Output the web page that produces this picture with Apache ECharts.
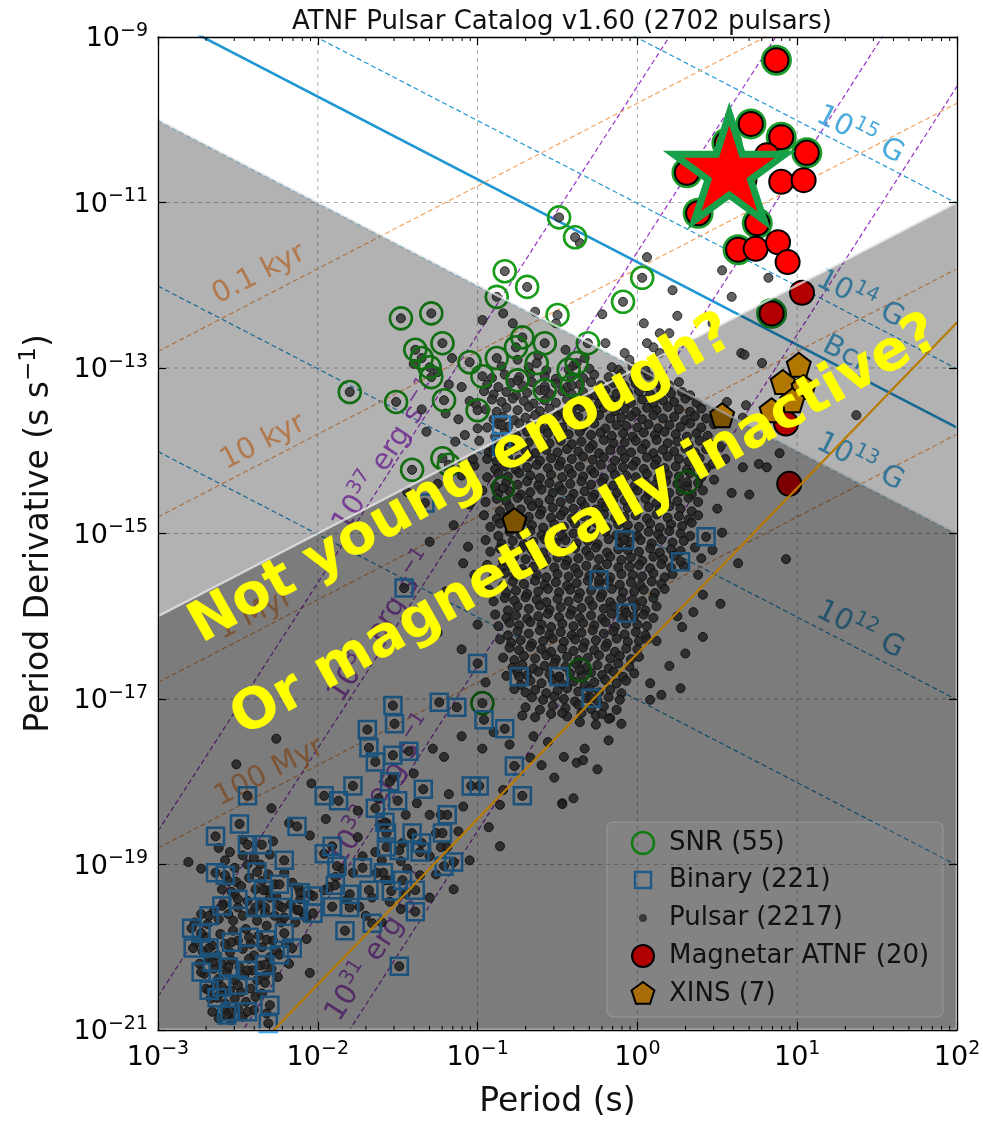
<!DOCTYPE html>
<html><head><meta charset="utf-8">
<script src="https://cdn.jsdelivr.net/npm/echarts@6/dist/echarts.min.js"></script>
<style>html,body{margin:0;padding:0;background:#fff}#c{width:983px;height:1122px}</style>
</head><body><div id="c"></div>
<script>
// ---- DATA (log10 period [s], log10 period derivative [s/s]) ----
const xTicks = [-3,-2,-1,0,1,2];
const yTicks = [-21,-19,-17,-15,-13,-11,-9];
const magnetars = [[.87,-9.28],[.71,-10.05],[.9,-10.21],[.81,-10.43],[1.06,-10.4],[.31,-10.64],[.9,-10.75],[1.04,-10.73],[.38,-11.13],[.75,-11.25],[.63,-11.57],[.74,-11.56],[.88,-11.48],[.94,-11.72],[1.03,-12.09],[.84,-12.34],[.56,-10.28],[.93,-13.67],[.95,-14.4],[.67,-10.73]];
const magnetarSnrIdx = [0,1,2,4,5,8,9,10,15,16];
const xins = [[1.01,-12.96],[.91,-13.17],[1.04,-13.23],[.97,-13.39],[.84,-13.51],[.53,-13.57],[-.77,-14.84]];
const targetStar = [[.575,-10.57]];
const snr = [[-.49,-11.18],[-.39,-11.42],[-.83,-11.83],[-.69,-12.02],[-.88,-12.14],[-1.48,-12.4],[-1.29,-12.34],[-.5,-12.36],[-.72,-12.63],[-1.22,-12.7],[-.58,-12.7],[-1.35,-12.88],[-1.3,-12.99],[-1.05,-12.93],[-.88,-12.88],[-.63,-12.94],[.03,-11.91],[-.09,-12.2],[-.31,-12.7],[-.38,-12.94],[-1.8,-13.29],[-1.51,-13.41],[-1.29,-13.11],[-1.21,-13.39],[-1,-13.51],[-.58,-13.27],[-1.41,-14.23],[-1.22,-14.09],[-1.18,-14.17],[-.84,-14.45],[-.97,-17.05],[-.76,-12.75],[-.43,-13.02],[-.97,-13.1],[-.75,-13.15],[-.41,-13.21],[.31,-14.38],[-.36,-16.65],[-1.39,-12.78]];
const binaries = [[-1.53,-17.08],[-1.69,-17.37],[-1.52,-17.3],[-1.68,-17.59],[-1.64,-17.76],[-1.53,-17.68],[-1.43,-17.63],[-1.55,-18],[-1.78,-18.05],[-1.96,-18.17],[-1.87,-18.23],[-1.5,-18.23],[-1.34,-18.09],[-1.24,-17.04],[-1.13,-17.1],[-.96,-17.25],[-.83,-17.36],[-.77,-17.81],[-1.04,-18.05],[-.99,-18.05],[-.72,-18.17],[-1.64,-18.32],[-1.58,-18.49],[-1.57,-18.62],[-1.19,-18.4],[-1.22,-18.62],[-1.41,-18.62],[-1.35,-18.74],[-1.57,-18.79],[-1.49,-18.83],[-1.36,-18.85],[-1.15,-18.97],[-1.21,-19.02],[-1.91,-18.78],[-1.96,-18.87],[-2.13,-18.54],[-2.49,-18.51],[-2.64,-18.66],[-2.44,-18.17],[-2.21,-18.95],[-2.44,-18.76],[-2.35,-18.76],[-2.64,-19.1],[-2.58,-19.13],[-2.38,-19.09],[-2.24,-19.24],[-2.11,-19.34],[-2.03,-19.38],[-1.88,-19.02],[-1.89,-19.25],[-1.72,-19.04],[-1.59,-19.1],[-1.47,-19.19],[-1.68,-19.31],[-1.8,-19.36],[-1.91,-19.51],[-1.8,-19.52],[-1.54,-19.32],[-1.39,-19.31],[-1.39,-19.57],[-1.66,-19.71],[-1.83,-19.8],[-1.49,-20.23],[-2.79,-19.77],[-2.6,-19.5],[-2.5,-19.42],[-2.39,-19.52],[-2.33,-19.52],[-2.22,-19.52],[-2.12,-19.55],[-2.03,-19.59],[-2.68,-19.62],[-2.73,-19.83],[-2.78,-20.01],[-2.68,-20.01],[-2.54,-19.94],[-2.43,-19.88],[-2.32,-19.91],[-2.21,-19.83],[-2.16,-20.01],[-2.24,-20.09],[-2.33,-20.21],[-2.44,-20.28],[-2.56,-20.24],[-2.66,-20.18],[-2.73,-20.3],[-2.6,-20.48],[-2.5,-20.46],[-2.68,-20.52],[-2.63,-20.61],[-2.55,-20.78],[-2.44,-20.78],[-2.33,-20.43],[-2.3,-20.7],[-2.31,-20.92],[-2.57,-20.82],[-2.34,-19.31],[-.85,-13.69],[-.85,-13.95],[-1.33,-14.63],[-1.46,-15.66],[-1,-16.57],[-.74,-16.73],[.43,-15.04],[.27,-15.34],[-.07,-15.96],[-.29,-16.99],[-.49,-16.73],[-.08,-15.08],[-.24,-15.56]];
const pulsarCore = [[-.85,-12.98],[-.68,-12.99],[-.57,-13.03],[-.4,-12.97],[-.3,-13.01],[-.12,-13.02],[-.03,-12.99],[.05,-13.03],[-.62,-12.85],[-.33,-12.88],[-.05,-12.9],[.1,-12.75],[-.45,-12.78],[-.2,-12.7],
[-.91,-13.12],[-.83,-13.08],[-.74,-13.11],[-.67,-13.07],[-.58,-13.1],[-.51,-13.13],[-.42,-13.09],[-.34,-13.12],[-.27,-13.08],[-.18,-13.11],[-.1,-13.07],[-.02,-13.13],[.07,-13.09],[.15,-13.1],
[-.94,-13.2],[-.87,-13.23],[-.79,-13.18],[-.72,-13.21],[-.66,-13.17],[-.58,-13.22],[-.51,-13.19],[-.44,-13.23],[-.36,-13.2],[-.29,-13.17],[-.23,-13.21],[-.15,-13.18],[-.08,-13.22],[-.01,-13.19],[.06,-13.23],[.13,-13.18],[.2,-13.21],[.26,-13.17],
[-.96,-13.28],[-.9,-13.32],[-.82,-13.29],[-.76,-13.33],[-.69,-13.3],[-.61,-13.27],[-.55,-13.31],[-.47,-13.28],[-.41,-13.32],[-.34,-13.29],[-.26,-13.33],[-.2,-13.27],[-.13,-13.31],[-.06,-13.3],[.01,-13.28],[.08,-13.32],[.15,-13.27],[.21,-13.31],[.28,-13.29],[.33,-13.33],
[-1.01,-13.44],[-.91,-13.38],[-.85,-13.41],[-.78,-13.37],[-.71,-13.4],[-.65,-13.43],[-.58,-13.39],[-.51,-13.42],[-.44,-13.38],[-.38,-13.41],[-.31,-13.37],[-.24,-13.43],[-.17,-13.39],[-.11,-13.4],[-.04,-13.42],[.03,-13.38],[.1,-13.43],[.16,-13.39],[.23,-13.41],[.3,-13.37],[.37,-13.42],
[-.95,-13.5],[-.88,-13.53],[-.82,-13.48],[-.75,-13.51],[-.68,-13.47],[-.61,-13.52],[-.55,-13.49],[-.48,-13.53],[-.41,-13.5],[-.35,-13.47],[-.28,-13.51],[-.21,-13.48],[-.14,-13.52],[-.08,-13.49],[-.01,-13.53],[.06,-13.48],[.12,-13.51],[.19,-13.47],[.26,-13.5],[.33,-13.53],[.4,-13.49],
[-.9,-13.62],[-.84,-13.59],[-.77,-13.63],[-.7,-13.6],[-.64,-13.57],[-.57,-13.61],[-.5,-13.58],[-.44,-13.62],[-.37,-13.59],[-.3,-13.63],[-.24,-13.57],[-.17,-13.61],[-.1,-13.6],[-.04,-13.58],[.03,-13.62],[.1,-13.57],[.16,-13.61],[.23,-13.59],[.3,-13.63],[.36,-13.58],[.43,-13.61],
[-.94,-13.72],[-.87,-13.68],[-.81,-13.71],[-.74,-13.67],[-.67,-13.7],[-.6,-13.73],[-.54,-13.69],[-.47,-13.72],[-.4,-13.68],[-.34,-13.71],[-.27,-13.67],[-.2,-13.73],[-.13,-13.69],[-.07,-13.7],[0,-13.72],[.07,-13.68],[.13,-13.73],[.2,-13.69],[.27,-13.71],[.33,-13.67],[.4,-13.72],[.48,-13.68],
[-.89,-13.83],[-.83,-13.78],[-.76,-13.81],[-.69,-13.77],[-.63,-13.82],[-.56,-13.79],[-.49,-13.83],[-.43,-13.8],[-.36,-13.77],[-.29,-13.81],[-.23,-13.78],[-.16,-13.82],[-.09,-13.79],[-.03,-13.83],[.04,-13.78],[.11,-13.81],[.17,-13.77],[.24,-13.8],[.31,-13.83],[.37,-13.79],[.44,-13.82],
[-.99,-13.88],[-.88,-13.92],[-.81,-13.89],[-.75,-13.93],[-.68,-13.9],[-.61,-13.87],[-.55,-13.91],[-.48,-13.88],[-.41,-13.92],[-.35,-13.89],[-.28,-13.93],[-.21,-13.87],[-.15,-13.91],[-.08,-13.9],[-.01,-13.88],[.05,-13.92],[.12,-13.87],[.19,-13.91],[.25,-13.89],[.32,-13.93],[.39,-13.88],[.45,-13.91],
[-.93,-14.02],[-.9,-13.98],[-.84,-14.01],[-.77,-13.97],[-.7,-14],[-.64,-14.03],[-.57,-13.99],[-.5,-14.02],[-.44,-13.98],[-.37,-14.01],[-.3,-13.97],[-.24,-14.03],[-.17,-13.99],[-.1,-14],[-.04,-14.02],[.03,-13.98],[.1,-14.03],[.16,-13.99],[.23,-14.01],[.3,-13.97],[.36,-14.02],[.43,-13.98],
[-.94,-14.1],[-.88,-14.13],[-.81,-14.08],[-.74,-14.11],[-.68,-14.07],[-.61,-14.12],[-.54,-14.09],[-.48,-14.13],[-.41,-14.1],[-.34,-14.07],[-.28,-14.11],[-.21,-14.08],[-.14,-14.12],[-.08,-14.09],[-.01,-14.13],[.06,-14.08],[.12,-14.11],[.19,-14.07],[.26,-14.1],[.32,-14.13],[.39,-14.09],[.47,-14.16],
[-1.02,-14.18],[-.89,-14.22],[-.83,-14.19],[-.76,-14.23],[-.69,-14.2],[-.63,-14.17],[-.56,-14.21],[-.49,-14.18],[-.43,-14.22],[-.36,-14.19],[-.29,-14.23],[-.23,-14.17],[-.16,-14.21],[-.09,-14.2],[-.03,-14.18],[.04,-14.22],[.11,-14.17],[.17,-14.21],[.24,-14.19],[.31,-14.23],[.37,-14.18],[.43,-14.21],
[-.94,-14.32],[-.87,-14.28],[-.81,-14.31],[-.74,-14.27],[-.67,-14.3],[-.61,-14.33],[-.54,-14.29],[-.47,-14.32],[-.41,-14.28],[-.34,-14.31],[-.27,-14.27],[-.21,-14.33],[-.14,-14.29],[-.07,-14.3],[-.01,-14.32],[.06,-14.28],[.13,-14.33],[.19,-14.29],[.26,-14.31],[.33,-14.27],[.4,-14.32],
[-.89,-14.43],[-.82,-14.38],[-.75,-14.41],[-.69,-14.37],[-.62,-14.42],[-.55,-14.39],[-.49,-14.43],[-.42,-14.4],[-.35,-14.37],[-.29,-14.41],[-.22,-14.38],[-.15,-14.42],[-.09,-14.39],[-.02,-14.43],[.05,-14.38],[.11,-14.41],[.18,-14.37],[.25,-14.4],[.31,-14.43],[.38,-14.39],
[-.97,-14.48],[-.87,-14.52],[-.8,-14.49],[-.73,-14.53],[-.67,-14.5],[-.6,-14.47],[-.53,-14.51],[-.47,-14.48],[-.4,-14.52],[-.33,-14.49],[-.27,-14.53],[-.2,-14.47],[-.13,-14.51],[-.07,-14.5],[0,-14.48],[.07,-14.52],[.13,-14.47],[.2,-14.51],[.27,-14.49],[.34,-14.53],[.41,-14.48],
[-.95,-14.62],[-.88,-14.58],[-.82,-14.61],[-.75,-14.57],[-.68,-14.6],[-.62,-14.63],[-.55,-14.59],[-.48,-14.62],[-.42,-14.58],[-.35,-14.61],[-.28,-14.57],[-.22,-14.63],[-.15,-14.59],[-.08,-14.6],[-.02,-14.62],[.05,-14.58],[.12,-14.63],[.18,-14.59],[.25,-14.61],[.32,-14.57],[.38,-14.62],
[-.86,-14.73],[-.8,-14.68],[-.73,-14.71],[-.66,-14.67],[-.6,-14.72],[-.53,-14.69],[-.46,-14.73],[-.4,-14.7],[-.33,-14.67],[-.26,-14.71],[-.2,-14.68],[-.13,-14.72],[-.06,-14.69],[0,-14.73],[.07,-14.68],[.14,-14.71],[.2,-14.67],[.27,-14.7],[.34,-14.73],
[-.96,-14.78],[-.88,-14.82],[-.81,-14.79],[-.74,-14.83],[-.68,-14.8],[-.61,-14.77],[-.54,-14.81],[-.48,-14.78],[-.41,-14.82],[-.34,-14.79],[-.28,-14.83],[-.21,-14.77],[-.14,-14.81],[-.08,-14.8],[-.01,-14.78],[.06,-14.82],[.12,-14.77],[.19,-14.81],[.26,-14.79],[.32,-14.83],[.38,-14.78],
[-.92,-14.92],[-.86,-14.88],[-.79,-14.91],[-.72,-14.87],[-.66,-14.9],[-.59,-14.93],[-.52,-14.89],[-.46,-14.92],[-.39,-14.88],[-.32,-14.91],[-.26,-14.87],[-.19,-14.93],[-.12,-14.89],[-.06,-14.9],[.01,-14.92],[.08,-14.88],[.14,-14.93],[.21,-14.89],[.28,-14.91],[.34,-14.87],
[-.87,-15.03],[-.8,-14.98],[-.73,-15.01],[-.67,-14.97],[-.6,-15.02],[-.53,-14.99],[-.47,-15.03],[-.4,-15],[-.33,-14.97],[-.27,-15.01],[-.2,-14.98],[-.13,-15.02],[-.07,-14.99],[0,-15.03],[.07,-14.98],[.13,-15.01],[.2,-14.97],[.27,-15],[.33,-15.03],
[-.95,-15.08],[-.85,-15.12],[-.78,-15.09],[-.71,-15.13],[-.65,-15.1],[-.58,-15.07],[-.51,-15.11],[-.45,-15.08],[-.38,-15.12],[-.31,-15.09],[-.25,-15.13],[-.18,-15.07],[-.11,-15.11],[-.05,-15.1],[.02,-15.08],[.09,-15.12],[.15,-15.07],[.22,-15.11],[.29,-15.09],
[-.92,-15.22],[-.86,-15.18],[-.79,-15.21],[-.72,-15.17],[-.66,-15.2],[-.59,-15.23],[-.52,-15.19],[-.46,-15.22],[-.39,-15.18],[-.32,-15.21],[-.26,-15.17],[-.19,-15.23],[-.12,-15.19],[-.06,-15.2],[.01,-15.22],[.08,-15.18],[.14,-15.23],[.21,-15.19],[.27,-15.21],[.36,-15.17],
[-.84,-15.33],[-.77,-15.28],[-.7,-15.31],[-.64,-15.27],[-.57,-15.32],[-.5,-15.29],[-.44,-15.33],[-.37,-15.3],[-.3,-15.27],[-.24,-15.31],[-.17,-15.28],[-.1,-15.32],[-.04,-15.29],[.03,-15.33],[.1,-15.28],[.16,-15.31],[.23,-15.27],
[-.94,-15.38],[-.85,-15.42],[-.79,-15.39],[-.72,-15.43],[-.65,-15.4],[-.59,-15.37],[-.52,-15.41],[-.45,-15.38],[-.39,-15.42],[-.32,-15.39],[-.25,-15.43],[-.19,-15.37],[-.12,-15.41],[-.05,-15.4],[.01,-15.38],[.08,-15.42],[.15,-15.37],[.21,-15.41],[.29,-15.39],
[-.9,-15.52],[-.83,-15.48],[-.77,-15.51],[-.7,-15.47],[-.63,-15.5],[-.57,-15.53],[-.5,-15.49],[-.43,-15.52],[-.37,-15.48],[-.3,-15.51],[-.23,-15.47],[-.17,-15.53],[-.1,-15.49],[-.03,-15.5],[.03,-15.52],[.1,-15.48],[.17,-15.53],[.22,-15.49],
[-.84,-15.63],[-.78,-15.58],[-.71,-15.61],[-.64,-15.57],[-.58,-15.62],[-.51,-15.59],[-.44,-15.63],[-.38,-15.6],[-.31,-15.57],[-.24,-15.61],[-.18,-15.58],[-.11,-15.62],[-.04,-15.59],[.02,-15.63],[.09,-15.58],[.15,-15.61],
[-.93,-15.68],[-.82,-15.72],[-.76,-15.69],[-.69,-15.73],[-.62,-15.7],[-.56,-15.67],[-.49,-15.71],[-.42,-15.68],[-.36,-15.72],[-.29,-15.69],[-.22,-15.73],[-.16,-15.67],[-.09,-15.71],[-.02,-15.7],[.04,-15.68],[.11,-15.72],[.17,-15.67],
[-.9,-15.82],[-.83,-15.78],[-.77,-15.81],[-.7,-15.77],[-.63,-15.8],[-.57,-15.83],[-.5,-15.79],[-.43,-15.82],[-.37,-15.78],[-.3,-15.81],[-.23,-15.77],[-.17,-15.83],[-.1,-15.79],[-.03,-15.8],[.03,-15.82],[.1,-15.78],
[-.81,-15.93],[-.75,-15.88],[-.68,-15.91],[-.61,-15.87],[-.55,-15.92],[-.48,-15.89],[-.41,-15.93],[-.35,-15.9],[-.28,-15.87],[-.21,-15.91],[-.15,-15.88],[-.08,-15.92],[-.01,-15.89],[.05,-15.93],[.12,-15.88],
[-.89,-15.98],[-.82,-16.02],[-.76,-15.99],[-.69,-16.03],[-.62,-16],[-.56,-15.97],[-.49,-16.01],[-.42,-15.98],[-.36,-16.02],[-.29,-15.99],[-.22,-16.03],[-.16,-15.97],[-.09,-16.01],[-.02,-16],[.04,-15.98],[.1,-16.02],
[-.87,-16.12],[-.8,-16.08],[-.74,-16.11],[-.67,-16.07],[-.6,-16.1],[-.54,-16.13],[-.47,-16.09],[-.4,-16.12],[-.34,-16.08],[-.27,-16.11],[-.2,-16.07],[-.14,-16.13],[-.07,-16.09],[0,-16.1],[.06,-16.12],
[-.81,-16.23],[-.75,-16.18],[-.68,-16.21],[-.61,-16.17],[-.55,-16.22],[-.48,-16.19],[-.41,-16.23],[-.35,-16.2],[-.28,-16.17],[-.21,-16.21],[-.15,-16.18],[-.08,-16.22],[-.01,-16.19],[.05,-16.23],
[-.86,-16.28],[-.79,-16.32],[-.73,-16.29],[-.66,-16.33],[-.59,-16.3],[-.53,-16.27],[-.46,-16.31],[-.39,-16.28],[-.33,-16.32],[-.26,-16.29],[-.19,-16.33],[-.13,-16.27],[-.06,-16.31],[.01,-16.3],[.06,-16.28],
[-.8,-16.38],[-.74,-16.41],[-.67,-16.37],[-.6,-16.4],[-.54,-16.43],[-.47,-16.39],[-.4,-16.42],[-.34,-16.38],[-.27,-16.41],[-.2,-16.37],[-.14,-16.43],[-.07,-16.39],[0,-16.4],
[-.84,-16.5],[-.77,-16.53],[-.71,-16.48],[-.64,-16.51],[-.57,-16.47],[-.51,-16.52],[-.44,-16.49],[-.37,-16.53],[-.31,-16.5],[-.24,-16.47],[-.17,-16.51],[-.11,-16.48],[-.04,-16.52],[.01,-16.49],
[-.78,-16.62],[-.72,-16.59],[-.65,-16.63],[-.58,-16.6],[-.52,-16.57],[-.45,-16.61],[-.38,-16.58],[-.32,-16.62],[-.25,-16.59],[-.18,-16.63],[-.12,-16.57],[-.05,-16.61],
[-.82,-16.72],[-.75,-16.68],[-.69,-16.71],[-.62,-16.67],[-.55,-16.7],[-.49,-16.73],[-.42,-16.69],[-.35,-16.72],[-.29,-16.68],[-.22,-16.71],[-.15,-16.67],[-.09,-16.73],[-.02,-16.69],
[-.73,-16.83],[-.67,-16.78],[-.6,-16.81],[-.53,-16.77],[-.47,-16.82],[-.4,-16.79],[-.33,-16.83],[-.27,-16.8],[-.2,-16.77],[-.13,-16.81],[-.07,-16.78],
[-.77,-16.88],[-.7,-16.92],[-.64,-16.89],[-.57,-16.93],[-.5,-16.9],[-.44,-16.87],[-.37,-16.91],[-.3,-16.88],[-.24,-16.92],[-.17,-16.89],[-.1,-16.93],
[-.66,-16.98],[-.59,-17.01],[-.52,-16.97],[-.46,-17],[-.39,-17.03],[-.32,-16.99],[-.25,-17.02],[-.18,-16.98],[-.11,-17.01],
[-.7,-17.1],[-.61,-17.13],[-.53,-17.08],[-.45,-17.11],[-.37,-17.07],[-.29,-17.12],[-.21,-17.09],[-.13,-17.13],
[-.64,-17.22],[-.54,-17.18],[-.44,-17.21],[-.35,-17.17],[-.26,-17.2],[-.17,-17.23]];
const pulsarOther = [[.06,-11.66],[.53,-11.82],[.82,-11.91],[.22,-12.06],[.59,-12.14],[-.22,-12.35],[.25,-12.37],[.04,-12.46],[.14,-12.58],[.2,-12.58],[.06,-12.7],[-.08,-12.82],[.14,-12.82],[.36,-12.81],[.47,-12.46],[.65,-12.82],[.67,-12.84],[.78,-12.94],[-.16,-12.99],[-.36,-11.49],
[-.64,-12.32],[-.97,-12.42],[-.84,-12.34],[-.78,-12.46],[-.51,-12.46],[-.75,-12.9],[-1.16,-12.88],
[-1.1,-13.23],[-1.32,-13.77],[-1.08,-13.81],[-1,-13.73],[-1.14,-13.89],[-1.44,-14.5],[-1.06,-15.16],[-1.09,-15.36],[-1.25,-13.05],[-1.18,-13.2],[-1.4,-12.95],[-1.05,-13.4],[-1.2,-13.55],[-1.35,-13.5],[-1.12,-13.62],[-1.03,-14.1],[-1.1,-14.3],[-1.25,-14.4],[-1.05,-14.65],[-1.15,-14.9],[-1.02,-15.5],[-1.3,-15.1],[-1.2,-15.7],[-1,-16.1],[-1.1,-16.4],[-.95,-16.8],[-1.25,-16.2],
[.53,-14.99],[.63,-15.36],[.93,-15.31],[.52,-15.85],[.41,-16.25],[.28,-16.13],[.27,-16.87],[.08,-17.01],[.08,-16.81],[.41,-15.74],[.7,-14.53],[.59,-14.51],[.81,-14.2],[.76,-14.16],[.89,-14.03],[1.37,-13.57],[.66,-14.2],[.56,-13.41],[.66,-13.6],[.68,-13.45],[.5,-14.7],[.48,-14.35],[.52,-13.95],[.55,-14.1],[.47,-15.2],[.38,-15.5],[.35,-15.95],[.3,-16.45],[.2,-16.6],[.15,-16.95],[.12,-16.3],[.25,-16],[.4,-15.3],
[-.47,-17.17],[-.36,-17.28],[-.26,-17.31],[-.22,-17.18],[-.18,-17.24],[-.46,-17.7],[-.38,-17.77],[-.34,-17.74],[-.47,-18.26],
[-1.72,-18.9],[-1.64,-18.85],[-1.6,-18.95],[-1.48,-18.96],[-1.44,-19.05],[-1.3,-18.9],[-1.26,-19.12],[-1.66,-19.4],[-1.55,-19.45],[-1.45,-19.35],[-1.78,-19.1],[-1.85,-19.05],[-1.7,-19.62],[-1.6,-19.7],[-1.3,-19.4],[-1.15,-19.3],[-1.05,-18.95],[-1.12,-18.6],[-1.09,-18.3],[-1.18,-18.15],[-1.3,-18.4],[-1.45,-18.4],[-1.62,-18.2],[-1.75,-18.35],[-1.95,-18.45],[-2.05,-18.65],[-2.18,-18.5],[-1.53,-17.95],[-1.4,-17.9],[-1.28,-17.6],[-1.1,-17.45],[-.97,-17.6],[-.9,-17.4],[-.8,-17.55],[-.72,-17.2],[-.65,-17.45],[-.6,-17.8],[-.52,-17.95],[-.4,-18.2],[-.33,-17.6],[-.25,-17.85],[-.18,-17.5],[-.1,-17.3],
[-2.26,-17.48],[-2.51,-17.79],[-2.04,-18.02],[-2.29,-18.32],[-2.81,-18.97],[-2.73,-19.05],[-1.75,-18.67],[-1.38,-18.26],[-1.21,-17.7],[-.67,-17.71],[-.56,-17.52],[-.84,-18.1],[-.86,-18.28],[-.93,-18.55],[-.86,-18.78],[-.47,-18.27],[-2.07,-19.9],[-2.05,-20.31],[-1.48,-19.54],[-1.74,-19.51],[-1.82,-19.43],[-1.96,-19.31],[-1.93,-19.27],[-1.89,-19.15],[-1.63,-19.1],[-1.58,-19.19],[-1.55,-19.19],[-1.36,-19.13],[-1.61,-18.52],[-1.57,-18.5],[-1.47,-18.74],[-1.41,-18.64],[-1.23,-18.4],[-1.23,-18.79],[-1.19,-18.79],[-1.26,-18.62],[-2.55,-18.85],[-2.47,-18.89],[-2.44,-19],[-2.51,-19.21],[-2.54,-19.33],[-2.32,-19.31],[-2.26,-19.39],[-2.13,-19.55],[-2.09,-19.59],[-2.07,-19.65],
[-2.76,-19.95],[-2.72,-20.05],[-2.7,-19.88],[-2.66,-19.98],[-2.63,-20.1],[-2.61,-19.84],[-2.58,-19.96],[-2.55,-20.06],[-2.53,-19.8],[-2.5,-19.92],[-2.47,-20.02],[-2.45,-19.78],[-2.42,-19.96],[-2.4,-20.1],[-2.37,-19.86],[-2.35,-20],[-2.32,-19.74],[-2.3,-20.12],[-2.28,-19.92],[-2.26,-20.04],[-2.23,-19.7],[-2.2,-19.95],[-2.18,-20.2],
[-2.74,-20.2],[-2.71,-20.32],[-2.68,-20.14],[-2.65,-20.26],[-2.62,-20.38],[-2.6,-20.2],[-2.57,-20.3],[-2.54,-20.16],[-2.52,-20.4],[-2.49,-20.24],[-2.46,-20.34],[-2.43,-20.14],[-2.41,-20.28],[-2.38,-20.4],[-2.36,-20.22],[-2.33,-20.34],[-2.29,-20.26],[-2.25,-20.36],
[-2.7,-20.5],[-2.67,-20.62],[-2.64,-20.46],[-2.61,-20.56],[-2.58,-20.68],[-2.55,-20.52],[-2.52,-20.62],[-2.48,-20.54],[-2.45,-20.66],[-2.42,-20.5],[-2.39,-20.6],[-2.35,-20.56],[-2.32,-20.8],
[-2.66,-20.78],[-2.62,-20.86],[-2.58,-20.76],[-2.54,-20.88],[-2.5,-20.74],[-2.47,-20.84],[-2.4,-20.76],
[-2.77,-19.7],[-2.73,-19.6],[-2.69,-19.72],[-2.65,-19.56],[-2.62,-19.66],[-2.59,-19.48],[-2.56,-19.6],[-2.53,-19.68],[-2.5,-19.52],[-2.47,-19.62],[-2.44,-19.44],[-2.41,-19.58],[-2.38,-19.68],[-2.36,-19.46],[-2.33,-19.58],[-2.3,-19.4],[-2.27,-19.62],[-2.24,-19.5],[-2.21,-19.64],[-2.17,-19.48],[-2.14,-19.7],[-2.11,-19.42],[-2.08,-19.62],[-2.05,-19.36],
[-2.6,-19.3],[-2.56,-19.2],[-2.52,-19.36],[-2.48,-19.26],[-2.43,-19.16],[-2.39,-19.3],[-2.35,-19.2],[-2.31,-19.12],[-2.27,-19.24],[-2.21,-19.1],[-2.16,-19.22],[-2.12,-19.28],
[-2.58,-18.95],[-2.52,-19.04],[-2.4,-18.92],[-2.36,-19],[-2.3,-18.88],[-2.62,-18.8],[-2.47,-18.7],[-2.28,-18.72]];

// guide-line definitions (values shown on the figure)
const bFieldLines = [1e11, 1e12, 1e13, 1e14, 1e15];      // G, dashed
const bCritical = 4.414e13;                               // G, solid "Bcr"
const ageLinesYr = [1e2, 1e4, 1e6, 1e8];                  // yr, dashed
const edotLines = [1e31, 1e33, 1e35, 1e37];               // erg/s, dashed
const deathLine = {slope: 2, logPdotAt1s: -16.45};        // solid
const regionLines = [[-1, -13], [1, -13]];                // shaded regions: P*Pdot=1e-13, Pdot/P=1e-13
const bLabels = [['15', [1.40,-10.16]], ['14', [1.40,-12.14]], ['13', [1.40,-14.11]], ['12', [1.40,-16.14]]];
const bcrLabel = [1.31,-12.81];
const ageLabels = [['0.1 kyr', [-2.375,-11.84]], ['10 kyr', [-2.35,-13.87]], ['1 Myr', [-2.40,-15.95]], ['100 Myr', [-2.31,-17.86]]];
const edotLabels = [['37', [-1.58,-14.05]], ['35', [-1.61,-16.11]], ['33', [-1.61,-18.1]], ['31', [-1.625,-19.97]]];
const legendItems = ['SNR (55)', 'Binary (221)', 'Pulsar (2217)', 'Magnetar ATNF (20)', 'XINS (7)'];

// ---- CHART ----
const F = '"DejaVu Sans", "Noto Sans", sans-serif';
const XMIN = -3, XMAX = 2, YMIN = -21, YMAX = -9;
const minus = v => String(v).replace('-', '\u2212');
const lineThrough = (s, b) => [[XMIN, s * XMIN + b], [XMAX, s * XMAX + b]];
const L10 = Math.log10;

function guideLine(data, color, width, dashed, z) {
  return {type: 'line', data, symbol: 'none', silent: true, z: z || 2, animation: false,
    lineStyle: {color, width, type: dashed ? [5, 3] : 'solid', opacity: 1}, clip: true};
}
const series = [];
series.push({type: 'custom', z: 1, silent: true, data: [[-1, -15]], animation: false,
  renderItem: (p, api) => {
    const ch = [];
    xTicks.slice(1, -1).forEach(x => { const a = api.coord([x, YMIN]), b = api.coord([x, YMAX]);
      ch.push({type: 'line', shape: {x1: a[0], y1: a[1], x2: b[0], y2: b[1]}, style: {stroke: '#b0b0b0', lineWidth: 1, lineDash: [4, 4]}}); });
    yTicks.slice(1, -1).forEach(y => { const a = api.coord([XMIN, y]), b = api.coord([XMAX, y]);
      ch.push({type: 'line', shape: {x1: a[0], y1: a[1], x2: b[0], y2: b[1]}, style: {stroke: '#b0b0b0', lineWidth: 1, lineDash: [4, 4]}}); });
    return {type: 'group', children: ch};
  }});
const BLUE = '#1e96d2', ORANGE = '#f4a460', PURPLE = '#9932cc';
bFieldLines.forEach(B => series.push(guideLine(lineThrough(-1, 2 * L10(B / 3.2e19)), BLUE, 1.2, true)));
series.push(guideLine(lineThrough(-1, 2 * L10(bCritical / 3.2e19)), BLUE, 2.6, false));
ageLinesYr.forEach(t => series.push(guideLine(lineThrough(1, -L10(2 * t * 3.156e7)), ORANGE, 1.2, true)));
edotLines.forEach(E => series.push(guideLine(lineThrough(3, L10(E) - L10(4 * Math.PI * Math.PI * 1e45)), PURPLE, 1.2, true)));

function labelSeries(items, color, rotate) {
  return {type: 'scatter', z: 2, silent: true, symbolSize: 1, animation: false, itemStyle: {color: 'rgba(0,0,0,0)'},
    data: items.map(it => ({value: it[1], label: {formatter: it[0]}})),
    label: {show: true, position: 'inside', rotate, color, fontFamily: F, fontSize: 29,
      rich: {n: {fontSize: 29, fontFamily: F, color, lineHeight: 34, verticalAlign: 'bottom'},
             s: {fontSize: 20, fontFamily: F, color, lineHeight: 20, verticalAlign: 'top'}}}};
}
series.push(labelSeries(bLabels.map(b => ['{n|10}{s|' + b[0] + '}{n| G}', b[1]]).concat([['{n|Bcr}', bcrLabel]]), BLUE, -27));
series.push(labelSeries(ageLabels.map(a => ['{n|' + a[0] + '}', a[1]]), '#ff9a4c', 27));
series.push(labelSeries(edotLabels.map(e => ['{n|10}{s|' + e[0] + '}{n| erg s}{s|\u22121}', e[1]]), PURPLE, 57));

const sc = (name, data, symbol, size, style, z) => ({type: 'scatter', name, z: z || 3, silent: true, animation: false,
  progressive: 0, large: false, data, symbol, symbolSize: size, itemStyle: Object.assign({opacity: 1}, style), emphasis: {disabled: true}});
const allDots = pulsarCore.concat(pulsarOther, binaries, snr);
series.push(sc('Pulsar', allDots, 'circle', 9, {color: 'rgba(70,70,70,0.85)', borderColor: 'rgba(30,30,30,0.9)', borderWidth: 1}));
series.push(sc('SNR', snr, 'circle', 22, {color: 'rgba(0,0,0,0)', borderColor: '#1a9e1a', borderWidth: 2.6}));
series.push(sc('Binary', binaries, 'rect', 17, {color: 'rgba(0,0,0,0)', borderColor: '#3aaaff', borderWidth: 2.5}));
series.push(sc('MagnetarSNR', magnetarSnrIdx.map(i => magnetars[i]), 'circle', 31, {color: '#1c9c2c'}));
series.push(sc('Magnetar ATNF', magnetars, 'circle', 24, {color: '#ff0000', borderColor: '#000', borderWidth: 2}));
series.push(sc('XINS', xins, 'path://M0,-100L95,-31L59,81L-59,81L-95,-31Z', 24, {color: '#ffab00', borderColor: '#000', borderWidth: 2}));
series.push({type: 'custom', z: 4, silent: true, animation: false, data: [[-1, -15], [-1, -15]],
  renderItem: (p, api) => {
    const r = regionLines[p.dataIndex];
    const pts = [[XMIN, r[0] * XMIN + r[1]], [XMAX, r[0] * XMAX + r[1]], [XMAX, YMIN], [XMIN, YMIN]].map(v => api.coord(v));
    return {type: 'polygon', shape: {points: pts}, style: {fill: 'rgba(0,0,0,0.3)', stroke: 'rgba(235,235,235,0.75)', lineWidth: 2.4}};
  }});
series.push(guideLine([[XMIN, deathLine.slope * XMIN + deathLine.logPdotAt1s], [XMAX, deathLine.slope * XMAX + deathLine.logPdotAt1s]], '#b97a00', 2.2, false, 5));
series.push(sc('Target', targetStar, 'path://M0,-100L22,-31L95,-31L36,12L59,81L0,38L-59,81L-36,12L-95,-31L-22,-31Z', [112, 107],
  {color: '#ff0000', borderColor: '#16a04a', borderWidth: 7}, 6));
series.push({type: 'custom', z: 10, silent: true, animation: false, data: [[-1, -15]],
  renderItem: (p, api) => {
    const ch = [];
    for (let d = XMIN; d < XMAX; d++) for (let k = 2; k <= 9; k++) {
      const x = d + L10(k); const b = api.coord([x, YMIN]), t = api.coord([x, YMAX]);
      ch.push({type: 'line', shape: {x1: b[0], y1: b[1], x2: b[0], y2: b[1] - 4}, style: {stroke: '#000', lineWidth: 1}});
      ch.push({type: 'line', shape: {x1: t[0], y1: t[1], x2: t[0], y2: t[1] + 4}, style: {stroke: '#000', lineWidth: 1}});
    }
    return {type: 'group', children: ch};
  }});

const tickRich = {n: {fontSize: 27, fontFamily: F, color: '#000', lineHeight: 31, verticalAlign: 'bottom'},
                  s: {fontSize: 19, fontFamily: F, color: '#000', lineHeight: 19, verticalAlign: 'top'}};
const powLabel = v => '{n|10}{s|' + minus(v) + '}';
const frameAxis = (extra) => Object.assign({type: 'value', z: 10, axisLine: {show: true, onZero: false, lineStyle: {color: '#000', width: 1.3}},
  axisTick: {show: true, inside: true, length: 8, lineStyle: {color: '#000', width: 1.2}}, splitLine: {show: false}}, extra);

const pent = [];
for (let i = 0; i < 5; i++) { const a = -Math.PI / 2 + i * 2 * Math.PI / 5; pent.push([643 + 12 * Math.cos(a), 994 + 12 * Math.sin(a)]); }
const legendRows = [843, 880, 918, 956, 994];
const legendChildren = [
  {type: 'rect', z: 60, shape: {x: 607, y: 822, width: 336, height: 195, r: 6}, style: {fill: 'rgba(190,190,190,0.12)', stroke: 'rgba(200,200,200,0.35)', lineWidth: 1}},
  {type: 'circle', z: 61, shape: {cx: 643, cy: 843, r: 11}, style: {fill: 'none', stroke: '#0f7d12', lineWidth: 2.5}},
  {type: 'rect', z: 61, shape: {x: 635, y: 872, width: 16, height: 16}, style: {fill: 'none', stroke: '#1d5b8c', lineWidth: 2.5}},
  {type: 'circle', z: 61, shape: {cx: 643, cy: 918, r: 4}, style: {fill: '#3a3a3a'}},
  {type: 'circle', z: 61, shape: {cx: 643, cy: 956, r: 11}, style: {fill: '#b00000', stroke: '#000', lineWidth: 2}},
  {type: 'polygon', z: 61, shape: {points: pent}, style: {fill: '#a86c08', stroke: '#000', lineWidth: 2}}
].concat(legendItems.map((t, i) => ({type: 'text', z: 61, x: 669, y: legendRows[i],
  style: {text: t, fill: '#111', font: '26px "DejaVu Sans"', align: 'left', verticalAlign: 'middle'}})));

const option = {
  animation: false,
  backgroundColor: '#fff',
  title: {text: 'ATNF Pulsar Catalog v1.60 (2702 pulsars)', left: 557, top: 4, textAlign: 'center',
    textStyle: {fontSize: 26, fontWeight: 'normal', fontFamily: F, color: '#111'}},
  grid: {left: 158, right: 26, top: 37, bottom: 92, containLabel: false, outerBoundsMode: 'none'},
  xAxis: [
    frameAxis({position: 'bottom', min: XMIN, max: XMAX, interval: 1,
      axisLabel: {show: true, margin: 10, formatter: powLabel, rich: tickRich, showMinLabel: true, showMaxLabel: true},
      name: 'Period (s)', nameLocation: 'middle', nameGap: 56, nameTextStyle: {fontSize: 33, fontFamily: F, color: '#111'}}),
    frameAxis({position: 'top', min: XMIN, max: XMAX, interval: 1, axisLabel: {show: false}})
  ],
  yAxis: [
    frameAxis({position: 'left', min: YMIN, max: YMAX, interval: 2,
      axisLabel: {show: true, margin: 10, formatter: powLabel, rich: tickRich, showMinLabel: true, showMaxLabel: true},
      name: '{n|Period Derivative (s s}{s|\u22121}{n|)}', nameLocation: 'middle', nameGap: 102,
      nameTextStyle: {color: '#111', rich: {n: {fontSize: 33, fontFamily: F, color: '#111', lineHeight: 38, verticalAlign: 'bottom'},
                                            s: {fontSize: 23, fontFamily: F, color: '#111', lineHeight: 23, verticalAlign: 'top'}}}}),
    frameAxis({position: 'right', min: YMIN, max: YMAX, interval: 2, axisLabel: {show: false}})
  ],
  series,
  graphic: [
    {type: 'text', x: 462, y: 480, rotation: 29.4 * Math.PI / 180, z: 50,
      style: {text: 'Not young enough?', fill: '#ffff00', font: 'bold 56px "DejaVu Sans"', align: 'center', verticalAlign: 'middle'}},
    {type: 'text', x: 586, y: 527, rotation: 29.4 * Math.PI / 180, z: 50,
      style: {text: 'Or magnetically inactive?', fill: '#ffff00', font: 'bold 56px "DejaVu Sans"', align: 'center', verticalAlign: 'middle'}},
    {type: 'group', children: legendChildren}
  ]
};
const chart = echarts.init(document.getElementById('c'), null, {renderer: 'canvas', width: 983, height: 1122});
chart.setOption(option);
</script></body></html>
